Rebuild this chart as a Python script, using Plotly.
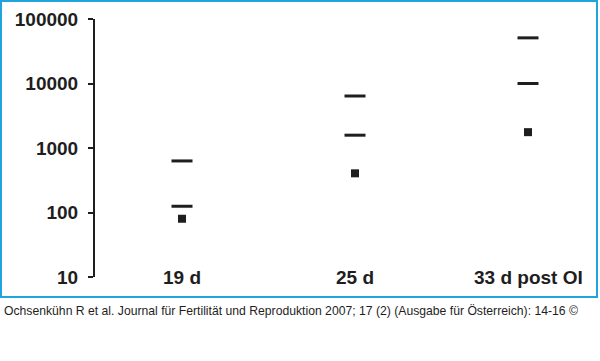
import plotly.graph_objects as go

categories = ["19 d", "25 d", "33 d post OI"]
upper_dash = [630, 6400, 51000]
lower_dash = [125, 1580, 10000]
square_vals = [80, 405, 1760]
y_tick_vals = [10, 100, 1000, 10000, 100000]
y_tick_text = ["10", "100", "1000", "10000", "100000"]
caption = "Ochsenkühn R et al. Journal für Fertilität und Reproduktion 2007; 17 (2) (Ausgabe für Österreich): 14-16 ©"

W, H = 600, 361
L, R, T, B = 95, 597, 19, 277  # plot area pixel bounds
ink = "#1e1e1e"
FONT = "Liberation Sans, Arial, sans-serif"

x_idx = list(range(len(categories)))

fig = go.Figure()
fig.add_trace(go.Scatter(x=x_idx, y=upper_dash, mode="markers",
                         marker=dict(symbol="line-ew", size=15, line=dict(width=3, color=ink)),
                         showlegend=False, hoverinfo="skip"))
fig.add_trace(go.Scatter(x=x_idx, y=lower_dash, mode="markers",
                         marker=dict(symbol="line-ew", size=15, line=dict(width=3, color=ink)),
                         showlegend=False, hoverinfo="skip"))
fig.add_trace(go.Scatter(x=x_idx, y=square_vals, mode="markers",
                         marker=dict(symbol="square", size=8, color=ink, line=dict(width=0)),
                         showlegend=False, hoverinfo="skip"))

px_per_cat = 173.0
x0_px = 182.0
xr = [-(x0_px - L) / px_per_cat, (R - x0_px) / px_per_cat]

fig.update_layout(
    width=W, height=H,
    margin=dict(l=L, r=W - R, t=T, b=H - B, pad=0),
    paper_bgcolor="white", plot_bgcolor="white",
    font=dict(family=FONT, color=ink),
    xaxis=dict(range=xr, visible=False, showgrid=False, zeroline=False),
    yaxis=dict(type="log", range=[1, 5], showgrid=False, zeroline=False,
               showline=True, linecolor=ink, linewidth=2,
               ticks="outside", ticklen=5, tickwidth=2, tickcolor=ink,
               tickvals=y_tick_vals, ticktext=y_tick_text,
               ticklabelstandoff=6,
               tickfont=dict(family=FONT, size=19, weight="bold", color=ink)),
)

for i, c in enumerate(categories):
    fig.add_annotation(x=i, y=1, xref="x", yref="y", text=c, showarrow=False,
                       xanchor="center", yanchor="middle",
                       font=dict(family=FONT, size=19, weight="bold", color=ink))

pw, ph = R - L, B - T
fig.add_shape(type="rect", xref="paper", yref="paper",
              x0=(1 - L) / pw, x1=(597 - L) / pw,
              y0=(B - 297) / ph, y1=(B - 1) / ph,
              line=dict(color="#21a3dd", width=2), fillcolor="rgba(0,0,0,0)", layer="below")

fig.add_annotation(x=(2 - L) / pw, y=(B - 311) / ph, xref="paper", yref="paper",
                   text=caption, showarrow=False, xanchor="left", yanchor="middle",
                   font=dict(family=FONT, size=12.2, color=ink))

fig.write_html("out.html", config={"displayModeBar": False},
               post_script="document.body.style.margin='0';")
